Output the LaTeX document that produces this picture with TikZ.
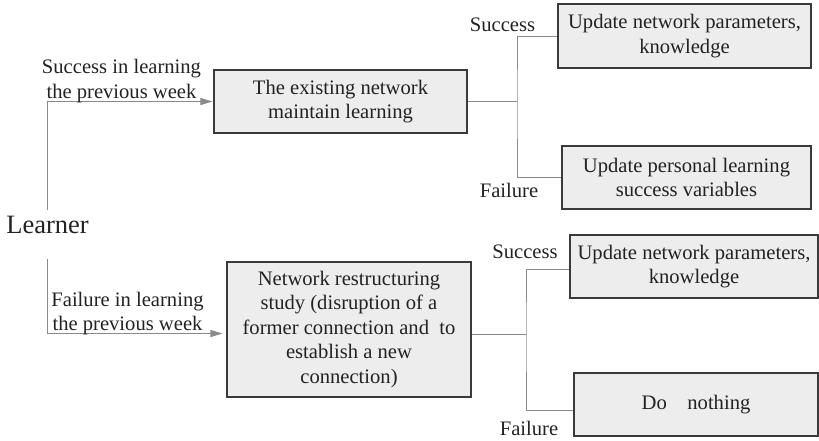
\documentclass[tikz,border=0pt]{standalone}
\usepackage{fontspec}
\setmainfont{Liberation Serif}
\usetikzlibrary{arrows.meta}

\definecolor{boxfill}{HTML}{EDEDED}
\definecolor{boxline}{HTML}{3A3A3A}
\definecolor{wire}{HTML}{8A8A8A}
\definecolor{ink}{HTML}{222222}

\tikzset{
  txt/.style={font=\fontsize{20.6}{24.5}\selectfont, text=ink},
  stagebox/.style={txt, draw=boxline, line width=1.1pt, fill=boxfill,
    rectangle, align=center, inner sep=0pt},
  tag/.style={txt, inner sep=0pt, align=center},
  wireline/.style={draw=wire, line width=1pt},
  feed/.style={wireline, -{Triangle[length=12pt,width=7pt,fill=wire]}}
}

\begin{document}
\begin{tikzpicture}[x=1pt,y=-1pt]
\useasboundingbox (0,0) rectangle (819,440);

% learner
\node[txt, font=\fontsize{26.5}{30}\selectfont, inner sep=0pt, anchor=base]
  (L) at (47.5,233.3) {Learner};

% main stages
\node[stagebox, minimum width=253pt, minimum height=63pt] (A) at (340.5,101.5)
  {The existing network\\maintain learning};
\node[stagebox, minimum width=244pt, minimum height=135pt] (D) at (349,329.5)
  {Network restructuring\\study (disruption of a\\former connection and~ to\\establish a new\\connection)};

% outcomes
\node[stagebox, minimum width=253pt, minimum height=64pt] (B) at (684.5,36)
  {Update network parameters,\\knowledge};
\node[stagebox, minimum width=249pt, minimum height=63pt] (C) at (686.5,177.5)
  {Update personal learning\\success variables};
\node[stagebox, minimum width=248pt, minimum height=63pt] (E) at (694,266.5)
  {Update network parameters,\\knowledge};
\node[stagebox, minimum width=244pt, minimum height=63pt] (F) at (696,404.5)
  {Do\quad nothing};

% junction points of the branches
\coordinate (j1) at (517,101.5);
\coordinate (j2) at (526,334);

% learner to stages
\draw[feed, shorten >=1pt] ([yshift=5.5pt]L.north) |- (A.west);
\draw[feed, shorten >=4pt] ([yshift=-25.7pt]L.south) |- ([yshift=-4pt]D.west);

% branches
\draw[wireline] (A.east) -- (j1);
\draw[wireline] (B.west) -| (j1) |- (C.west);
\draw[wireline] ([yshift=-4.5pt]D.east) -- (j2);
\draw[wireline] ([yshift=-2.5pt]E.west) -| (j2) |- ([yshift=-6pt]F.west);

% labels
\node[tag, anchor=south] (sl) at (121.5,103) {Success in learning\\the previous week};
\node[tag, anchor=south] (fl) at (127.5,335.3) {Failure in learning\\the previous week};
\node[tag, anchor=base] (s1) at (502.5,31.7) {Success};
\node[tag, anchor=base] (f1) at (509,197.3) {Failure};
\node[tag, anchor=base] (s2) at (525,258) {Success};
\node[tag, anchor=base] (f2) at (529,435) {Failure};
\end{tikzpicture}
\end{document}
